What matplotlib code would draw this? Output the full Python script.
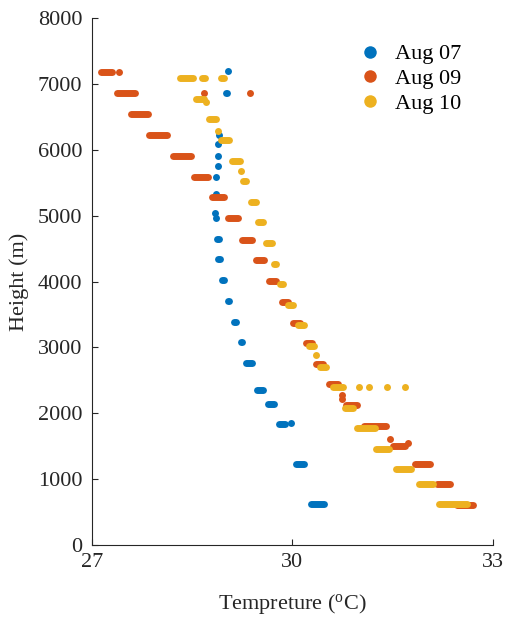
import matplotlib
matplotlib.use('Agg')
import matplotlib.pyplot as plt
from matplotlib.lines import Line2D

plt.rcParams['font.family'] = ['Liberation Serif', 'DejaVu Serif']

# Temperature profiles: horizontal streaks (height, t_start, t_end)
h_07 = [7195, 6866, 6548, 6229, 6087, 5910, 5749, 5591, 5324, 5040, 4965, 4650,
        4337, 4023, 3704, 3390, 3077, 2763, 2358, 2145, 1840, 1857, 1234, 622]
t0_07 = [29.03, 29.00, 28.94, 28.90, 28.89, 28.89, 28.88, 28.86, 28.85, 28.84, 28.85, 28.87,
         28.89, 28.95, 29.04, 29.12, 29.23, 29.30, 29.47, 29.63, 29.80, 29.98, 30.06, 30.28]
t1_07 = [29.03, 29.02, 28.95, 28.90, 28.89, 28.89, 28.88, 28.86, 28.85, 28.84, 28.85, 28.90,
         28.92, 28.98, 29.05, 29.15, 29.24, 29.39, 29.56, 29.72, 29.89, 29.98, 30.17, 30.47]

h_09 = [7180, 7180, 6862, 6862, 6862, 6538, 6224, 5910, 5591, 5278, 4959, 4635,
        4326, 4013, 3694, 3375, 3066, 2750, 2444, 2270, 2210, 2130, 1806, 1604,
        1503, 1553, 1230, 921, 612]
t0_09 = [27.14, 27.41, 27.37, 28.68, 29.36, 27.58, 27.86, 28.21, 28.53, 28.79, 29.03, 29.25,
         29.45, 29.65, 29.84, 30.01, 30.20, 30.36, 30.55, 30.75, 30.75, 30.80, 31.07, 31.46,
         31.51, 31.73, 31.83, 32.17, 32.47]
t1_09 = [27.30, 27.41, 27.65, 28.68, 29.36, 27.84, 28.12, 28.48, 28.73, 28.97, 29.19, 29.39,
         29.58, 29.76, 29.94, 30.11, 30.29, 30.46, 30.68, 30.75, 30.75, 30.97, 31.40, 31.46,
         31.68, 31.73, 32.06, 32.36, 32.70]

h_10 = [7090, 7090, 7090, 6770, 6725, 6467, 6285, 6148, 5834, 5677, 5521, 5202,
        4899, 4584, 4266, 3958, 3648, 3340, 3026, 2890, 2710, 2398, 2398, 2398,
        2398, 2398, 2084, 1771, 1457, 1154, 931, 622]
t0_10 = [28.32, 28.65, 28.93, 28.56, 28.70, 28.75, 28.89, 28.93, 29.10, 29.23, 29.26, 29.38,
         29.49, 29.61, 29.72, 29.81, 29.94, 30.09, 30.25, 30.36, 30.41, 30.61, 31.00, 31.14,
         31.42, 31.68, 30.79, 30.97, 31.25, 31.55, 31.90, 32.20]
t1_10 = [28.52, 28.69, 28.97, 28.68, 28.70, 28.85, 28.89, 29.05, 29.21, 29.23, 29.31, 29.45,
         29.56, 29.70, 29.75, 29.86, 30.01, 30.17, 30.33, 30.36, 30.51, 30.76, 31.00, 31.14,
         31.42, 31.68, 30.91, 31.23, 31.44, 31.78, 32.11, 32.61]

series = [('Aug 07', '#0072BD', h_07, t0_07, t1_07),
          ('Aug 09', '#D95319', h_09, t0_09, t1_09),
          ('Aug 10', '#EDB120', h_10, t0_10, t1_10)]

fig = plt.figure(figsize=(5.08, 6.17), dpi=100)
ax = fig.add_axes([0.181, 0.1167, 0.789, 0.854])

lw = 5.0
for label, color, hs, t0s, t1s in series:
    for h, a, b in zip(hs, t0s, t1s):
        if b - a < 0.005:
            ax.plot([a], [h], 'o', color=color, ms=lw, mec='none')
        else:
            ax.plot([a, b], [h, h], '-', color=color, lw=lw, solid_capstyle='round')

fs = 16
ax.set_xlim(27, 33)
ax.set_ylim(0, 8000)
ax.set_xticks([27, 30, 33])
ax.set_yticks(range(0, 8001, 1000))
ax.spines['top'].set_visible(False)
ax.spines['right'].set_visible(False)
ax.tick_params(direction='in', length=4, labelsize=fs, color='#262626', labelcolor='#262626')
ax.tick_params(axis='x', pad=6)
ax.tick_params(axis='y', pad=7)
for s in ax.spines.values():
    s.set_color('#262626')
ax.set_xlabel('Tempreture ($\\mathregular{^{o}}$C)', fontsize=fs, color='#262626', labelpad=14)
ax.set_ylabel('Height (m)', fontsize=fs, color='#262626', labelpad=6)

handles = [Line2D([], [], ls='none', marker='o', ms=9, color=c, mec='none', label=l)
           for l, c, *_ in series]
ax.legend(handles=handles, loc='upper left', bbox_to_anchor=(0.666, 0.951), frameon=False,
          fontsize=fs, handlelength=1.0, handletextpad=0.63, labelspacing=0.18,
          borderpad=0, borderaxespad=0)

plt.savefig('out.png', dpi=100)
